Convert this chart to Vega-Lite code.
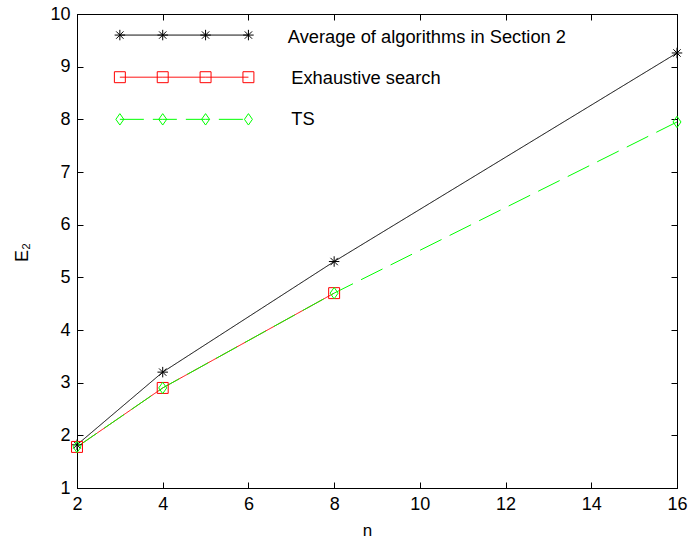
{
  "$schema": "https://vega.github.io/schema/vega-lite/v6.json",
  "width": 600,
  "height": 474,
  "autosize": {"type": "none"},
  "padding": {"left": 77, "top": 14, "right": 13, "bottom": 58},
  "background": "white",
  "config": {
    "view": {"stroke": "black", "strokeWidth": 1},
    "axis": {
      "grid": false,
      "domainColor": "black",
      "tickColor": "black",
      "tickSize": -6,
      "labelFlush": false,
      "labelColor": "black",
      "labelFont": "Liberation Sans Narrow, Liberation Sans",
      "labelFontSize": 18,
      "titleFont": "Liberation Sans",
      "titleColor": "black",
      "titleFontWeight": "normal"
    }
  },
  "datasets": {
    "pts": [
      {"s": "avg", "g": "avg-d", "n": 2, "e": 1.82},
      {"s": "avg", "g": "avg-d", "n": 4, "e": 3.2},
      {"s": "avg", "g": "avg-d", "n": 8, "e": 5.3},
      {"s": "avg", "g": "avg-d", "n": 16, "e": 9.26},
      {"s": "ex", "g": "ex-d", "n": 2, "e": 1.78},
      {"s": "ex", "g": "ex-d", "n": 4, "e": 2.9},
      {"s": "ex", "g": "ex-d", "n": 8, "e": 4.7},
      {"s": "ts", "g": "ts-d", "n": 2, "e": 1.78},
      {"s": "ts", "g": "ts-d", "n": 4, "e": 2.9},
      {"s": "ts", "g": "ts-d", "n": 8, "e": 4.7},
      {"s": "ts", "g": "ts-d", "n": 16, "e": 7.95},
      {"s": "avg", "g": "avg-k", "n": 3, "e": 9.6},
      {"s": "avg", "g": "avg-k", "n": 4, "e": 9.6},
      {"s": "avg", "g": "avg-k", "n": 5, "e": 9.6},
      {"s": "avg", "g": "avg-k", "n": 6, "e": 9.6},
      {"s": "ex", "g": "ex-k", "n": 3, "e": 8.8},
      {"s": "ex", "g": "ex-k", "n": 4, "e": 8.8},
      {"s": "ex", "g": "ex-k", "n": 5, "e": 8.8},
      {"s": "ex", "g": "ex-k", "n": 6, "e": 8.8},
      {"s": "ts", "g": "ts-k", "n": 3, "e": 8.0},
      {"s": "ts", "g": "ts-k", "n": 4, "e": 8.0},
      {"s": "ts", "g": "ts-k", "n": 5, "e": 8.0},
      {"s": "ts", "g": "ts-k", "n": 6, "e": 8.0}
    ],
    "labels": [
      {"n": 6.92, "e": 9.55, "label": "Average of algorithms in Section 2"},
      {"n": 7.0, "e": 8.77, "label": "Exhaustive search"},
      {"n": 7.0, "e": 7.98, "label": "TS"}
    ]
  },
  "layer": [
    {
      "encoding": {
        "x": {
          "field": "n", "type": "quantitative",
          "scale": {"domain": [2, 16], "nice": false, "zero": false},
          "axis": {
            "orient": "bottom",
            "values": [2, 4, 6, 8, 10, 12, 14, 16],
            "labelPadding": 13,
            "title": "n",
            "titleFontSize": 17,
            "titleX": 290,
            "titleY": 42,
            "titleBaseline": "middle",
            "titleAnchor": "middle"
          }
        },
        "y": {
          "field": "e", "type": "quantitative",
          "scale": {"domain": [1, 10], "nice": false, "zero": false},
          "axis": {
            "orient": "left",
            "values": [1, 2, 3, 4, 5, 6, 7, 8, 9, 10],
            "labelPadding": 13,
            "title": "E₂",
            "titleFontSize": 18,
            "titleAngle": -90,
            "titleX": -55,
            "titleY": 238,
            "titleBaseline": "middle",
            "titleAlign": "center"
          }
        }
      },
      "layer": [
        {
          "data": {"name": "pts"},
          "mark": {"type": "line", "strokeWidth": 1},
          "encoding": {
            "detail": {"field": "g"},
            "color": {
              "field": "s", "type": "nominal",
              "scale": {"domain": ["avg", "ex", "ts"], "range": ["#000000", "#ff0000", "#00ff00"]},
              "legend": null
            },
            "strokeDash": {
              "field": "s", "type": "nominal",
              "scale": {"domain": ["avg", "ex", "ts"], "range": [[1, 0], [1, 0], [24, 9]]},
              "legend": null
            }
          }
        },
        {
          "data": {"name": "pts"},
          "mark": {"type": "point", "filled": false, "strokeWidth": 1, "opacity": 1},
          "encoding": {
            "color": {
              "field": "s", "type": "nominal",
              "scale": {"domain": ["avg", "ex", "ts"], "range": ["#000000", "#ff0000", "#00ff00"]},
              "legend": null
            },
            "shape": {
              "field": "s", "type": "nominal",
              "scale": {"domain": ["avg", "ex", "ts"], "range": ["M-1,0H1M0,-1V1M-0.7,-0.7L0.7,0.7M-0.7,0.7L0.7,-0.7", "square", "M0,-1L0.7,0L0,1L-0.7,0Z"]},
              "legend": null
            },
            "size": {
              "field": "s", "type": "nominal",
              "scale": {"domain": ["avg", "ex", "ts"], "range": [110, 130, 225]},
              "legend": null
            }
          }
        },
        {
          "data": {"name": "labels"},
          "mark": {"type": "text", "align": "left", "baseline": "middle", "font": "Liberation Sans", "fontSize": 18.3, "color": "black"},
          "encoding": {"text": {"field": "label"}}
        }
      ]
    },
    {
      "data": {"name": "labels"},
      "mark": {"type": "point", "opacity": 0},
      "encoding": {
        "x": {
          "field": "n", "type": "quantitative",
          "scale": {"domain": [2, 16], "nice": false, "zero": false},
          "axis": {"orient": "top", "values": [2, 4, 6, 8, 10, 12, 14, 16], "labels": false, "title": null}
        },
        "y": {
          "field": "e", "type": "quantitative",
          "scale": {"domain": [1, 10], "nice": false, "zero": false},
          "axis": {"orient": "right", "values": [1, 2, 3, 4, 5, 6, 7, 8, 9, 10], "labels": false, "title": null}
        }
      }
    }
  ],
  "resolve": {"axis": {"x": "independent", "y": "independent"}}
}
